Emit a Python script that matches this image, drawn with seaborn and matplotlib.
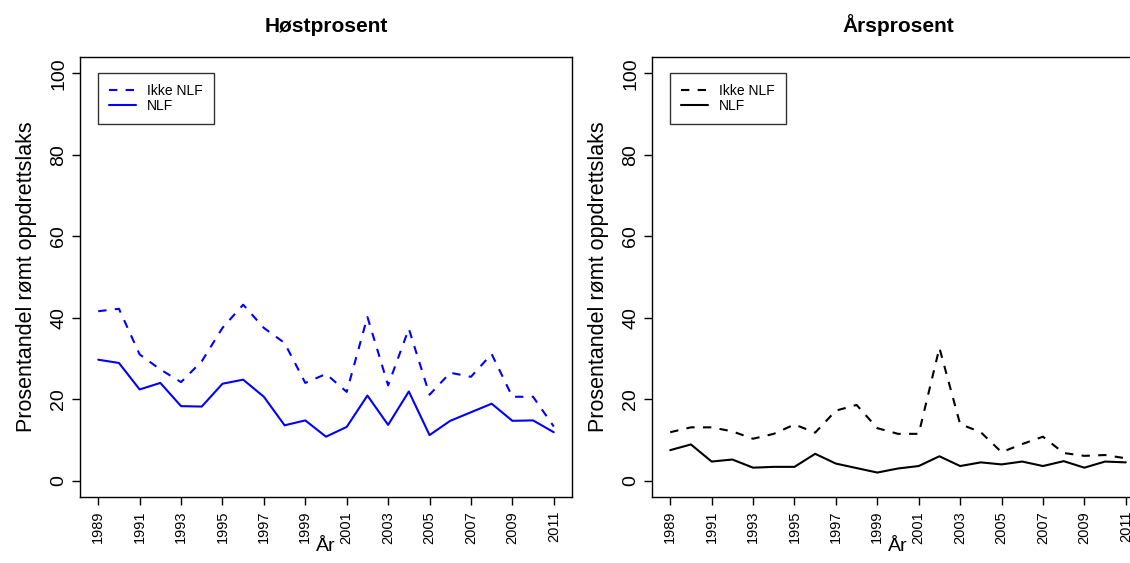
import numpy as np
import pandas as pd
import matplotlib
matplotlib.use("Agg")
import matplotlib.pyplot as plt
import seaborn as sns
from matplotlib.lines import Line2D

years = list(range(1989, 2012))
host_ikke_nlf = [41.6, 42.2, 31.0, 27.3, 24.2, 29.3, 37.5, 43.2, 37.5, 33.8, 24.0, 26.2,
                 21.8, 40.2, 23.4, 37.3, 21.1, 26.5, 25.5, 31.1, 20.6, 20.6, 13.3]
host_nlf = [29.7, 28.9, 22.4, 24.0, 18.3, 18.2, 23.8, 24.8, 20.6, 13.6, 14.8, 10.8,
            13.2, 20.9, 13.7, 21.9, 11.2, 14.7, 16.8, 18.9, 14.7, 14.8, 11.9]
ars_ikke_nlf = [11.9, 13.1, 13.1, 12.1, 10.3, 11.5, 13.8, 11.8, 17.2, 18.6, 12.9, 11.5,
                11.5, 32.6, 13.9, 11.9, 7.0, 9.0, 10.8, 6.8, 6.1, 6.3, 5.5]
ars_nlf = [7.5, 8.9, 4.7, 5.2, 3.2, 3.4, 3.4, 6.6, 4.2, 3.1, 2.0, 3.0,
           3.6, 6.0, 3.6, 4.5, 4.0, 4.7, 3.6, 4.8, 3.2, 4.7, 4.5]
titles = ["Høstprosent", "Årsprosent"]
legend_labels = ["Ikke NLF", "NLF"]
ylabel = "Prosentandel rømt oppdrettslaks"
xlabel = "År"
yticks = [0, 20, 40, 60, 80, 100]
xticks = list(range(1989, 2012, 2))

sns.set_theme(style="white")
plt.rcParams['font.family'] = ['Liberation Sans', 'DejaVu Sans']
for k in ["text.color", "axes.labelcolor", "xtick.color", "ytick.color"]:
    plt.rcParams[k] = "black"

W, H = 1130, 563
fig = plt.figure(figsize=(W / 100, H / 100), dpi=100)

def px_axes(x0, y0, x1, y1):
    return fig.add_axes([x0 / W, 1 - y1 / H, (x1 - x0) / W, (y1 - y0) / H])

panels = [
    (px_axes(80, 57, 572, 497), host_ikke_nlf, host_nlf, "blue", titles[0]),
    (px_axes(652, 57, 1144, 497), ars_ikke_nlf, ars_nlf, "black", titles[1]),
]

for ax, ikke, nlf, col, title in panels:
    df = pd.DataFrame({"year": years, "ikke": ikke, "nlf": nlf})
    sns.lineplot(data=df, x="year", y="ikke", ax=ax, color=col, linewidth=1.5,
                 linestyle=(0, (4, 4)))
    sns.lineplot(data=df, x="year", y="nlf", ax=ax, color=col, linewidth=1.5)
    ax.set_xlim(1989 - 0.88, 2011 + 0.88)
    ax.set_ylim(-4, 104)
    ax.set_xticks(xticks)
    ax.set_xticklabels([str(x) for x in xticks], rotation=90, fontsize=10.5)
    ax.set_yticks(yticks)
    ax.set_yticklabels([str(y) for y in yticks], rotation=90, fontsize=14, va="center")
    ax.tick_params(axis="both", direction="out", length=6, width=1, color="black",
                   bottom=True, left=True, pad=4)
    ax.tick_params(axis="y", pad=3)
    for s in ax.spines.values():
        s.set_color("black")
        s.set_linewidth(1)
    ax.set_xlabel(xlabel, fontsize=14, labelpad=-4)
    ax.set_ylabel(ylabel, fontsize=15.5, labelpad=10)
    ax.set_title(title, fontsize=15, fontweight="bold", pad=18)
    handles = [Line2D([], [], color=col, lw=1.5, linestyle=(0, (4, 4))),
               Line2D([], [], color=col, lw=1.5)]
    leg = ax.legend(handles, legend_labels, loc="upper left",
                    bbox_to_anchor=(18 / 492, 1 - 16 / 440), fontsize=10,
                    frameon=True, fancybox=False, edgecolor="black",
                    handlelength=1.95, borderpad=0.8, labelspacing=0.08,
                    handletextpad=0.8, borderaxespad=0)
    leg.get_frame().set_linewidth(1)

fig.savefig("out.png", dpi=100)
